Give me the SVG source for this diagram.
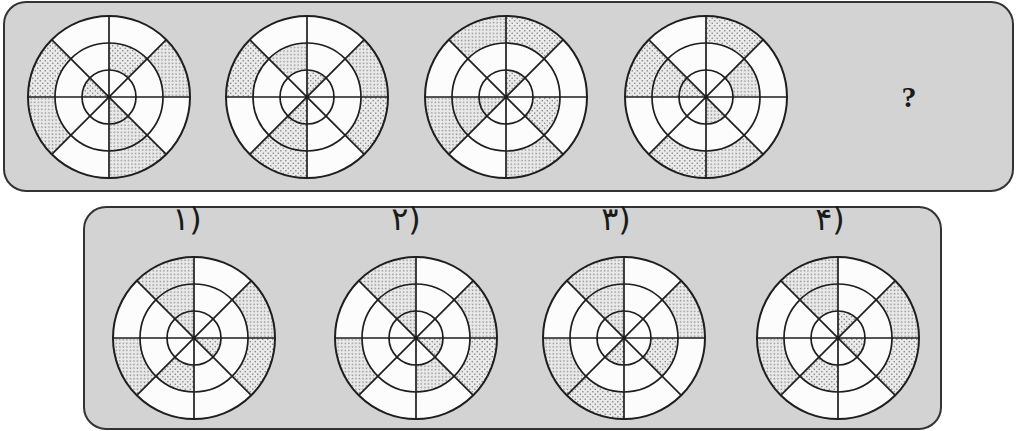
<svg xmlns="http://www.w3.org/2000/svg" xmlns:xlink="http://www.w3.org/1999/xlink" width="1018" height="431" viewBox="0 0 1018 431">
<style>
.box{fill:#d3d3d3;stroke:#333;stroke-width:2}
.disc{fill:#fcfcfc}
.dot{fill:url(#dots)}
.grid{fill:none;stroke:#1e1e1e;stroke-width:1.7}
.lbl{font-family:"DejaVu Sans","Noto Sans",sans-serif;font-size:32px;fill:#1a1a1a}
.q{font-family:"Liberation Serif",serif;font-weight:bold;font-size:30px;fill:#1a1a1a}
</style>
<defs>
<pattern id="dots" width="5" height="5" patternUnits="userSpaceOnUse">
<rect width="5" height="5" fill="#eaeaea"/>
<circle cx="1.2" cy="1.2" r="0.8" fill="#808080"/>
<circle cx="3.7" cy="3.7" r="0.8" fill="#808080"/>
</pattern>
<path id="s0" d="M0 0 L0 -27 A27 27 0 0 1 19.09 -19.09 Z"/>
<path id="s1" d="M0 -54 A54 54 0 0 1 38.18 -38.18 L19.09 -19.09 A27 27 0 0 0 0 -27 Z"/>
<path id="s2" d="M0 -81 A81 81 0 0 1 57.28 -57.28 L38.18 -38.18 A54 54 0 0 0 0 -54 Z"/>
<g id="grid" class="grid">
<circle r="81" stroke-width="2"/><circle r="54"/><circle r="27"/>
<line x1="-81" y1="0" x2="81" y2="0"/>
<line x1="0" y1="-81" x2="0" y2="81"/>
<line x1="-57.28" y1="-57.28" x2="57.28" y2="57.28"/>
<line x1="-57.28" y1="57.28" x2="57.28" y2="-57.28"/>
<circle r="2" fill="#1e1e1e" stroke="none"/>
</g>
</defs>
<rect width="1018" height="431" fill="#ffffff"/>
<rect id="topPanel" class="box" x="4" y="2" width="1009" height="189" rx="22"/>
<rect id="bottomPanel" class="box" x="84" y="207" width="857" height="222" rx="22"/>

<g id="c1" transform="translate(109,97)">
<circle class="disc" r="81"/>
<g class="dot">
<use href="#s2" transform="rotate(45)"/><use href="#s2" transform="rotate(135)"/><use href="#s2" transform="rotate(225)"/><use href="#s2" transform="rotate(270)"/>
<use href="#s1" transform="rotate(0)"/><use href="#s1" transform="rotate(135)"/>
<use href="#s0" transform="rotate(270)"/><use href="#s0" transform="rotate(135)"/>
</g>
<use href="#grid"/>
</g>

<g id="c2" transform="translate(307,97)">
<circle class="disc" r="81"/>
<g class="dot">
<use href="#s2" transform="rotate(45)"/><use href="#s2" transform="rotate(90)"/><use href="#s2" transform="rotate(180)"/><use href="#s2" transform="rotate(270)"/>
<use href="#s1" transform="rotate(315)"/><use href="#s1" transform="rotate(180)"/>
<use href="#s0" transform="rotate(0)"/><use href="#s0" transform="rotate(180)"/>
</g>
<use href="#grid"/>
</g>

<g id="c3" transform="translate(506,97)">
<circle class="disc" r="81"/>
<g class="dot">
<use href="#s2" transform="rotate(315)"/><use href="#s2" transform="rotate(0)"/><use href="#s2" transform="rotate(135)"/><use href="#s2" transform="rotate(225)"/>
<use href="#s1" transform="rotate(90)"/><use href="#s1" transform="rotate(225)"/>
<use href="#s0" transform="rotate(0)"/><use href="#s0" transform="rotate(225)"/>
</g>
<use href="#grid"/>
</g>

<g id="c4" transform="translate(706,97)">
<circle class="disc" r="81"/>
<g class="dot">
<use href="#s2" transform="rotate(0)"/><use href="#s2" transform="rotate(135)"/><use href="#s2" transform="rotate(180)"/><use href="#s2" transform="rotate(270)"/>
<use href="#s1" transform="rotate(45)"/><use href="#s1" transform="rotate(270)"/>
<use href="#s0" transform="rotate(270)"/><use href="#s0" transform="rotate(135)"/>
</g>
<use href="#grid"/>
</g>

<text id="question" class="q" x="909" y="107" text-anchor="middle">?</text>

<g id="opt1">
<text class="lbl" x="187" y="230" text-anchor="middle" direction="ltr">۱)</text>
<g transform="translate(194,338)">
<circle class="disc" r="81"/>
<g class="dot">
<use href="#s2" transform="rotate(315)"/><use href="#s2" transform="rotate(45)"/><use href="#s2" transform="rotate(90)"/><use href="#s2" transform="rotate(225)"/>
<use href="#s1" transform="rotate(315)"/><use href="#s1" transform="rotate(180)"/>
<use href="#s0" transform="rotate(315)"/><use href="#s0" transform="rotate(90)"/>
</g>
<use href="#grid"/>
</g>
</g>

<g id="opt2">
<text class="lbl" x="406" y="230" text-anchor="middle" direction="ltr">۲)</text>
<g transform="translate(416,338)">
<circle class="disc" r="81"/>
<g class="dot">
<use href="#s2" transform="rotate(315)"/><use href="#s2" transform="rotate(45)"/><use href="#s2" transform="rotate(90)"/><use href="#s2" transform="rotate(225)"/>
<use href="#s1" transform="rotate(315)"/><use href="#s1" transform="rotate(135)"/>
<use href="#s0" transform="rotate(315)"/><use href="#s0" transform="rotate(90)"/>
</g>
<use href="#grid"/>
</g>
</g>

<g id="opt3">
<text class="lbl" x="616" y="230" text-anchor="middle" direction="ltr">۳)</text>
<g transform="translate(624,338)">
<circle class="disc" r="81"/>
<g class="dot">
<use href="#s2" transform="rotate(315)"/><use href="#s2" transform="rotate(45)"/><use href="#s2" transform="rotate(180)"/><use href="#s2" transform="rotate(225)"/>
<use href="#s1" transform="rotate(315)"/><use href="#s1" transform="rotate(90)"/>
<use href="#s0" transform="rotate(315)"/><use href="#s0" transform="rotate(180)"/>
</g>
<use href="#grid"/>
</g>
</g>

<g id="opt4">
<text class="lbl" x="830" y="230" text-anchor="middle" direction="ltr">۴)</text>
<g transform="translate(838,338)">
<circle class="disc" r="81"/>
<g class="dot">
<use href="#s2" transform="rotate(315)"/><use href="#s2" transform="rotate(45)"/><use href="#s2" transform="rotate(90)"/><use href="#s2" transform="rotate(225)"/>
<use href="#s1" transform="rotate(315)"/><use href="#s1" transform="rotate(180)"/>
<use href="#s0" transform="rotate(0)"/><use href="#s0" transform="rotate(90)"/>
</g>
<use href="#grid"/>
</g>
</g>
</svg>
